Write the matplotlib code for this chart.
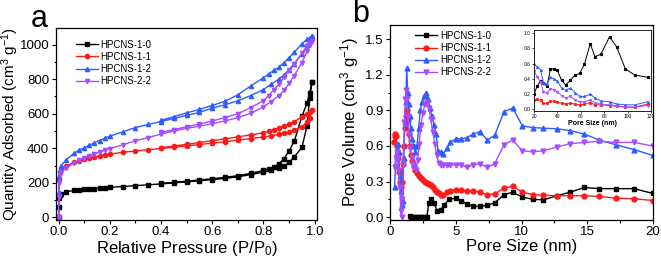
import matplotlib
matplotlib.use('Agg')
import matplotlib.pyplot as plt
from matplotlib.ticker import MultipleLocator, FormatStrFormatter

plt.rcParams['font.family'] = ['Liberation Sans', 'DejaVu Sans']
plt.rcParams['mathtext.fontset'] = 'custom'
plt.rcParams['mathtext.rm'] = 'Liberation Sans'
plt.rcParams['mathtext.it'] = 'Liberation Sans:italic'

labels = ['HPCNS-1-0', 'HPCNS-1-1', 'HPCNS-1-2', 'HPCNS-2-2']
colors = ['black', '#ff1a1a', '#2f5dff', '#a64dff']
markers = ['s', 'o', '^', 'v']

# --- panel a: N2 isotherms (adsorption + desorption branch)
p_ads = [0.0, 0.001, 0.003, 0.006, 0.01, 0.03, 0.06, 0.08, 0.1, 0.12, 0.14, 0.16,
         0.18, 0.2, 0.25, 0.3, 0.35, 0.4, 0.45, 0.5, 0.55, 0.6, 0.65, 0.7, 0.75,
         0.8, 0.83, 0.86, 0.88, 0.9, 0.92, 0.95, 0.97, 0.98, 0.99]
p_des = [0.99, 0.98, 0.97, 0.95, 0.92, 0.9, 0.88, 0.86, 0.84, 0.82, 0.8, 0.75,
         0.7, 0.65, 0.6, 0.55, 0.5, 0.45, 0.4]

ads = {
    'HPCNS-1-0': [0, 60, 110, 128, 137, 148, 157, 160, 163, 165, 167, 170, 172, 174,
                  179, 184, 189, 194, 200, 206, 212, 219, 226, 235, 248, 262, 272,
                  285, 297, 318, 350, 405, 530, 690, 785],
    'HPCNS-1-1': [0, 130, 220, 265, 285, 298, 318, 328, 336, 343, 350, 356, 361, 366,
                  377, 385, 392, 399, 406, 414, 422, 430, 438, 447, 456, 466, 473,
                  481, 487, 495, 505, 525, 550, 575, 620],
    'HPCNS-1-2': [0, 150, 240, 275, 300, 335, 370, 390, 402, 418, 432, 445, 458, 470,
                  495, 520, 538, 555, 573, 590, 608, 632, 652, 675, 705, 740, 770,
                  800, 825, 855, 890, 945, 995, 1020, 1050],
    'HPCNS-2-2': [0, 120, 200, 245, 265, 285, 315, 330, 345, 358, 368, 378, 388, 398,
                  420, 443, 462, 482, 500, 515, 528, 542, 558, 578, 602, 640, 670,
                  705, 735, 775, 820, 895, 960, 995, 1020],
}
des = {
    'HPCNS-1-0': [785, 720, 660, 585, 440, 385, 340, 310, 292, 280, 272, 255, 242,
                  232, 224, 217, 210, 203, 197],
    'HPCNS-1-1': [620, 612, 600, 580, 555, 540, 528, 518, 508, 498, 490, 478, 466,
                  455, 444, 433, 423, 413, 404],
    'HPCNS-1-2': [1050, 1040, 1030, 1005, 955, 925, 895, 870, 850, 830, 808, 760,
                  710, 672, 648, 625, 605, 583, 562],
    'HPCNS-2-2': [1020, 1010, 990, 950, 885, 850, 810, 770, 740, 705, 675, 635, 600,
                  578, 558, 540, 525, 508, 492],
}

# --- panel b: pore size distribution
psd_x = {
    'HPCNS-1-0': [1.5, 1.6, 1.75, 1.9, 2.05, 2.2, 2.35, 2.5, 2.65, 2.8, 2.95, 3.15,
                  3.35, 3.6, 3.85, 4.1, 4.5, 5.0, 5.4, 5.85, 6.3, 6.84, 7.4, 7.96,
                  8.67, 9.33, 10.06, 10.85, 11.66, 12.67, 13.7, 14.78, 15.9, 17.18,
                  18.55, 19.97],
    'HPCNS-1-1': [0.3, 0.35, 0.4, 0.45, 0.5, 0.58, 0.66, 0.74, 0.82, 0.9, 0.97, 1.05,
                  1.12, 1.2, 1.27, 1.35, 1.42, 1.5, 1.58, 1.68, 1.8, 1.92, 2.05, 2.2,
                  2.35, 2.5, 2.65, 2.8, 2.95, 3.1, 3.25, 3.4, 3.55, 3.7, 3.85, 4.05,
                  4.3, 4.6, 5.0, 5.4, 5.85, 6.3, 6.84, 7.4, 7.96, 8.67, 9.33, 10.06,
                  10.85, 11.66, 12.67, 13.7, 14.78, 15.9, 17.18, 18.55, 19.97],
    'HPCNS-1-2': [0.35, 0.42, 0.5, 0.58, 0.66, 0.74, 0.82, 0.9, 0.97, 1.05, 1.12,
                  1.2, 1.27, 1.35, 1.42, 1.5, 1.58, 1.68, 1.8, 1.92, 2.05, 2.18, 2.3,
                  2.45, 2.6, 2.75, 2.9, 3.05, 3.2, 3.35, 3.5, 3.65, 3.85, 4.05, 4.3,
                  4.6, 5.0, 5.4, 5.85, 6.3, 6.84, 7.4, 7.96, 8.67, 9.33, 10.06, 10.85,
                  11.66, 12.67, 13.7, 14.78, 15.9, 17.18, 18.55, 19.97],
    'HPCNS-2-2': [0.35, 0.42, 0.5, 0.58, 0.66, 0.74, 0.82, 0.88, 0.95, 1.02, 1.1,
                  1.17, 1.24, 1.3, 1.38, 1.46, 1.55, 1.65, 1.75, 1.85, 1.97, 2.1,
                  2.22, 2.35, 2.5, 2.65, 2.8, 2.95, 3.1, 3.25, 3.4, 3.55, 3.7, 3.85,
                  4.05, 4.3, 4.6, 5.0, 5.4, 5.85, 6.3, 6.84, 7.4, 7.96, 8.67, 9.33,
                  10.06, 10.85, 11.66, 12.67, 13.7, 14.78, 15.9, 17.18, 18.55, 19.97],
}
psd_y = {
    'HPCNS-1-0': [0.01, 0.0, 0.0, 0.0, 0.0, 0.0, 0.0, 0.0, 0.0, 0.0, 0.12, 0.15,
                  0.12, 0.05, 0.06, 0.10, 0.15, 0.16, 0.14, 0.11, 0.09, 0.09, 0.10,
                  0.12, 0.19, 0.21, 0.17, 0.15, 0.145, 0.18, 0.21, 0.25, 0.24, 0.24,
                  0.24, 0.20],
    'HPCNS-1-1': [0.63, 0.68, 0.70, 0.68, 0.60, 0.50, 0.38, 0.30, 0.25, 0.30, 0.45,
                  0.60, 0.75, 0.85, 0.90, 0.82, 0.70, 0.60, 0.52, 0.47, 0.43, 0.40,
                  0.37, 0.35, 0.33, 0.31, 0.30, 0.29, 0.28, 0.27, 0.25, 0.23, 0.21,
                  0.20, 0.19, 0.19, 0.21, 0.22, 0.23, 0.225, 0.22, 0.22, 0.21, 0.19,
                  0.195, 0.245, 0.26, 0.21, 0.19, 0.185, 0.18, 0.18, 0.18, 0.175,
                  0.16, 0.155, 0.14],
    'HPCNS-1-2': [0.25, 0.43, 0.55, 0.62, 0.55, 0.35, 0.22, 0.10, 0.14, 0.50, 0.80,
                  0.97, 1.26, 1.05, 0.95, 0.85, 0.75, 0.66, 0.60, 0.55, 0.60, 0.75,
                  0.90, 0.97, 1.02, 1.05, 1.00, 0.92, 0.85, 0.78, 0.70, 0.56, 0.55,
                  0.53, 0.58, 0.63, 0.66, 0.66, 0.67, 0.70, 0.72, 0.65, 0.69, 0.89,
                  0.92, 0.77, 0.755, 0.75, 0.745, 0.73, 0.70, 0.65, 0.61, 0.57, 0.52],
    'HPCNS-2-2': [0.42, 0.50, 0.55, 0.50, 0.40, 0.25, 0.05, 0.0, 0.15, 0.45, 0.80,
                  1.00, 1.07, 1.00, 0.85, 0.70, 0.58, 0.50, 0.45, 0.41, 0.40, 0.48,
                  0.62, 0.78, 0.88, 0.95, 0.97, 0.92, 0.83, 0.72, 0.62, 0.52, 0.46,
                  0.44, 0.44, 0.44, 0.44, 0.44, 0.44, 0.42, 0.44, 0.45, 0.42, 0.45,
                  0.61, 0.65, 0.56, 0.55, 0.56, 0.59, 0.62, 0.63, 0.64, 0.63, 0.63,
                  0.60],
}

# --- inset: large pores
ins_x = [20, 22.5, 25.5, 28, 31, 34, 37, 40, 43.5, 47, 51, 55, 59, 63, 68, 72, 77,
         84.5, 90.5, 98, 106, 117]
ins_y = {
    'HPCNS-1-0': [0.20, 0.30, 0.37, 0.35, 0.30, 0.53, 0.53, 0.51, 0.38, 0.32, 0.38,
                  0.45, 0.47, 0.59, 0.86, 0.69, 0.72, 0.95, 0.82, 0.53, 0.45, 0.42],
    'HPCNS-1-1': [0.12, 0.13, 0.12, 0.08, 0.08, 0.11, 0.11, 0.10, 0.08, 0.07, 0.08,
                  0.07, 0.06, 0.07, 0.09, 0.06, 0.06, 0.05, 0.04, 0.03, 0.03, 0.07],
    'HPCNS-1-2': [0.59, 0.56, 0.52, 0.35, 0.33, 0.42, 0.40, 0.37, 0.28, 0.25, 0.28,
                  0.22, 0.17, 0.17, 0.20, 0.15, 0.11, 0.10, 0.07, 0.06, 0.06, 0.10],
    'HPCNS-2-2': [0.50, 0.43, 0.36, 0.23, 0.22, 0.27, 0.26, 0.23, 0.18, 0.15, 0.17,
                  0.12, 0.10, 0.10, 0.12, 0.09, 0.07, 0.06, 0.05, 0.03, 0.03, 0.05],
}


def style_axis(ax, fs):
    ax.tick_params(which='both', direction='out', labelsize=fs, width=0.8, pad=1.5)
    ax.tick_params(which='major', length=3)
    ax.tick_params(which='minor', length=1.8)
    for s in ax.spines.values():
        s.set_linewidth(0.9)


def add_legend(ax, x, y):
    ax.legend(loc='upper left', bbox_to_anchor=(x, y), frameon=False,
              fontsize=7, handlelength=2.3, handletextpad=0.25,
              labelspacing=0.22, borderaxespad=0, borderpad=0)


fig = plt.figure(figsize=(6.61, 2.58), dpi=100)

ax1 = fig.add_axes([0.084, 0.147, 0.396, 0.744])
for name, c, m in zip(labels, colors, markers):
    xs = p_ads + p_des
    ys = ads[name] + des[name]
    ax1.plot(xs, ys, color=c, marker=m, markersize=3, lw=1, label=name)
ax1.set_xlim(-0.012, 1.01)
ax1.set_ylim(-15, 1095)
ax1.xaxis.set_major_locator(MultipleLocator(0.2))
ax1.xaxis.set_minor_locator(MultipleLocator(0.1))
ax1.yaxis.set_major_locator(MultipleLocator(200))
ax1.yaxis.set_minor_locator(MultipleLocator(100))
ax1.xaxis.set_major_formatter(FormatStrFormatter('%.1f'))
style_axis(ax1, 9.5)
ax1.set_xlabel(r'Relative Pressure (P/P$_0$)', fontsize=12)
ax1.xaxis.set_label_coords(0.5, -0.097)
ax1.set_ylabel(r'Quantity Adsorbed (cm$^3$ g$^{-1}$)', fontsize=11)
ax1.yaxis.set_label_coords(-0.133, 0.5)
add_legend(ax1, 0.077, 0.94)
fig.text(0.047, 0.895, 'a', fontsize=22)

ax2 = fig.add_axes([0.59, 0.147, 0.398, 0.756])
for name, c, m in zip(labels, colors, markers):
    ax2.plot(psd_x[name], psd_y[name], color=c, marker=m, markersize=3.5, lw=1,
             label=name)
ax2.set_xlim(0, 20)
ax2.set_ylim(-0.025, 1.62)
ax2.xaxis.set_major_locator(MultipleLocator(5))
ax2.xaxis.set_minor_locator(MultipleLocator(2.5))
ax2.yaxis.set_major_locator(MultipleLocator(0.3))
ax2.yaxis.set_minor_locator(MultipleLocator(0.15))
ax2.yaxis.set_major_formatter(FormatStrFormatter('%.1f'))
style_axis(ax2, 9.5)
ax2.set_xlabel('Pore Size (nm)', fontsize=12)
ax2.xaxis.set_label_coords(0.5, -0.095)
ax2.set_ylabel(r'Pore Volume (cm$^3$ g$^{-1}$)', fontsize=12)
ax2.yaxis.set_label_coords(-0.11, 0.5)
add_legend(ax2, 0.095, 0.97)
fig.text(0.532, 0.915, 'b', fontsize=22)

ax3 = fig.add_axes([0.808, 0.57, 0.177, 0.314])
for name, c, m in zip(labels, colors, markers):
    ax3.plot(ins_x, ins_y[name], color=c, marker=m, markersize=1.3, lw=0.7)
ax3.set_xlim(20, 120)
ax3.set_ylim(-0.02, 1.04)
ax3.xaxis.set_major_locator(MultipleLocator(20))
ax3.yaxis.set_major_locator(MultipleLocator(0.2))
ax3.yaxis.set_major_formatter(FormatStrFormatter('%.1f'))
ax3.tick_params(direction='out', labelsize=3.5, length=1.5, width=0.5, pad=1)
for s in ax3.spines.values():
    s.set_linewidth(0.6)
ax3.set_xlabel('Pore Size (nm)', fontsize=5, fontweight='bold', labelpad=0.5)

fig.savefig('out.png', dpi=100)
